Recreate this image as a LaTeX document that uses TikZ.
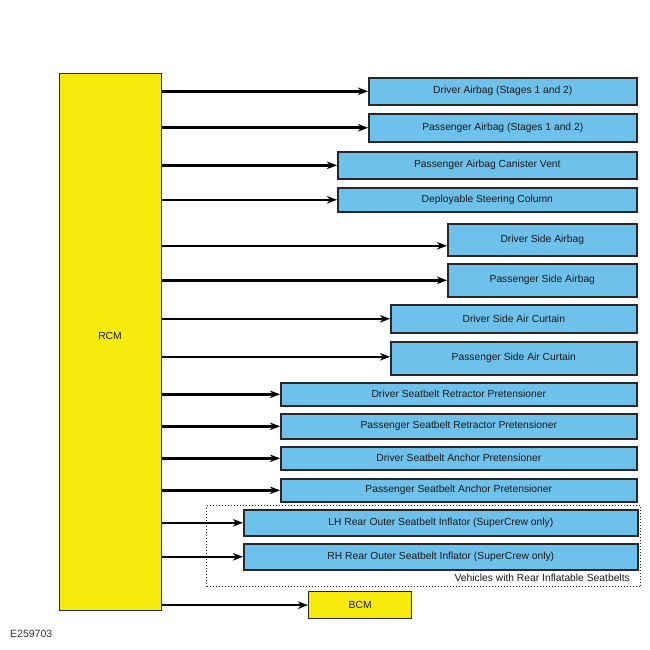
\documentclass[tikz,border=0pt]{standalone}
\usepackage{fontspec}
\setmainfont{Liberation Sans}
\usetikzlibrary{arrows.meta}
\definecolor{boxblue}{RGB}{110,193,235}
\definecolor{boxyellow}{RGB}{247,235,12}
\definecolor{edgegray}{RGB}{40,40,40}
\begin{document}
\begin{tikzpicture}[x=1pt,y=-1pt,
  comp/.style={draw=edgegray,line width=1.6pt,fill=boxblue,anchor=north west,inner sep=0pt,
    font=\fontsize{10.3}{12}\selectfont,text=black!90},
  ctrl/.style={draw=edgegray,line width=1.3pt,fill=boxyellow,anchor=north west,inner sep=0pt,
    font=\fontsize{10.3}{12}\selectfont,text=black!90},
  arr/.style={line width=2.6pt,-{Stealth[length=10pt,width=7.5pt,inset=3pt]}}]
\useasboundingbox (0,0) rectangle (650,650);
% RCM
\node[ctrl,minimum width=102pt,minimum height=537pt] (rcm) at (59,73) {};
\node[font=\fontsize{10.3}{12}\selectfont,text=black!90] (rcmt) at (110,336) {RCM};
% components
\newcommand{\comp}[6]{\node[comp,minimum width=#3pt,minimum height=#4pt] (#5) at (#1,#2) {#6};}
\comp{368}{77}{268}{27}{b1}{Driver Airbag (Stages 1 and 2)}
\comp{368}{113}{268}{28}{b2}{Passenger Airbag (Stages 1 and 2)}
\comp{337}{151}{299}{27}{b3}{Passenger Airbag Canister Vent}
\comp{337}{187}{299}{24}{b4}{Deployable Steering Column}
\comp{447}{223}{189}{32}{b5}{Driver Side Airbag}
\comp{447}{263}{189}{33}{b6}{Passenger Side Airbag}
\comp{390}{304}{246}{28}{b7}{Driver Side Air Curtain}
\comp{390}{341}{246}{33}{b8}{Passenger Side Air Curtain}
\comp{280}{382}{356}{23}{b9}{Driver Seatbelt Retractor Pretensioner}
\comp{280}{413}{356}{25}{b10}{Passenger Seatbelt Retractor Pretensioner}
\comp{280}{446}{356}{23}{b11}{Driver Seatbelt Anchor Pretensioner}
\comp{280}{478}{356}{23}{b12}{Passenger Seatbelt Anchor Pretensioner}
\comp{243}{509}{394}{26}{b13}{LH Rear Outer Seatbelt Inflator (SuperCrew only)}
\comp{243}{543}{394}{26}{b14}{RH Rear Outer Seatbelt Inflator (SuperCrew only)}
\node[ctrl,minimum width=103pt,minimum height=27pt] (bcm) at (308,591) {BCM};
% dotted group
\node[draw=edgegray,dotted,line width=1pt,anchor=north west,minimum width=434pt,minimum height=81pt,inner sep=0pt] (grp) at (206,505) {};
\node[anchor=east,font=\fontsize{10.3}{12}\selectfont,text=black!90,inner sep=0pt] (grpt) at (630,578) {Vehicles with Rear Inflatable Seatbelts};
% arrows
\foreach \b in {b1,b2,b3,b4,b6,b7,b9,b10,b11,b12,b13,b14,bcm}
  \draw[arr] (\b.west -| rcm.east) -- (\b.west);
\draw[arr] ([yshift=-6pt]b5.west -| rcm.east) -- ([yshift=-6pt]b5.west);
\draw[arr] ([yshift=1.5pt]b8.west -| rcm.east) -- ([yshift=1.5pt]b8.west);
% figure id
\node[anchor=west,font=\fontsize{10.5}{12}\selectfont,text=black!80,inner sep=0pt] (fid) at (10,634) {E259703};
\end{tikzpicture}
\end{document}
